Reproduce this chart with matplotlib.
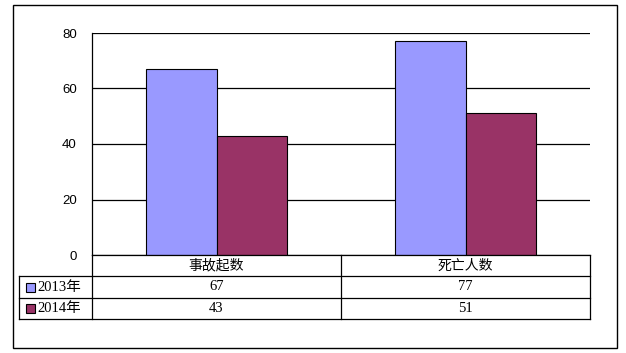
import matplotlib.pyplot as plt
from matplotlib.patches import Rectangle
from matplotlib.lines import Line2D

plt.rcParams['font.family'] = ['Liberation Sans', 'Noto Sans CJK SC']

categories = ["事故起数", "死亡人数"]
series_names = ["2013年", "2014年"]
values_2013 = [67, 77]
values_2014 = [43, 51]
colors = ["#9999FF", "#993366"]
yticks = [0, 20, 40, 60, 80]

W, H = 626, 353
fig = plt.figure(figsize=(W / 100, H / 100), dpi=100)


def fx(px):
    return px / W


def fy(py):
    return 1 - py / H


# outer frame
fig.patches.append(Rectangle((fx(13), fy(348)), fx(617) - fx(13), fy(5) - fy(348),
                             transform=fig.transFigure, fill=False, ec="black", lw=1.0))

left, right, top, bottom = 92, 590, 33, 255
ax = fig.add_axes([fx(left), fy(bottom), fx(right) - fx(left), fy(top) - fy(bottom)])

bw = 0.285
x = range(len(categories))
ax.bar([i - bw / 2 for i in x], values_2013, bw, color=colors[0], ec="black", lw=0.8, zorder=3)
ax.bar([i + bw / 2 for i in x], values_2014, bw, color=colors[1], ec="black", lw=0.8, zorder=3)

ax.set_xlim(-0.5, len(categories) - 0.5)
ax.set_ylim(0, 80)
ax.set_yticks(yticks)
ax.set_yticklabels([str(t) for t in yticks], fontsize=9.5)
ax.tick_params(axis="y", length=0, pad=11)
ax.set_xticks([])
ax.yaxis.grid(True, color="black", lw=0.9, zorder=0)
ax.set_axisbelow(True)
for s in ["top", "right", "bottom"]:
    ax.spines[s].set_visible(False)
ax.spines["left"].set_linewidth(0.9)

# data table below the plot
row_y = [255, 276, 298, 319]
col_x = [19, 92, 341, 590]
lw = 0.9


def hline(y, x0, x1):
    fig.lines.append(Line2D([fx(x0), fx(x1)], [fy(y), fy(y)], transform=fig.transFigure,
                            color="black", lw=lw))


def vline(xp, y0, y1):
    fig.lines.append(Line2D([fx(xp), fx(xp)], [fy(y0), fy(y1)], transform=fig.transFigure,
                            color="black", lw=lw))


hline(row_y[0], col_x[1], col_x[3])
for yy in row_y[1:]:
    hline(yy, col_x[0], col_x[3])
vline(col_x[0], row_y[1], row_y[3])
for xx in col_x[1:]:
    vline(xx, row_y[0], row_y[3])

cjk = ['Noto Sans CJK SC', 'DejaVu Sans']
num = ['Liberation Serif', 'Noto Sans CJK SC']
for j, cat in enumerate(categories):
    cx = (col_x[j + 1] + col_x[j + 2]) / 2
    fig.text(fx(cx), fy((row_y[0] + row_y[1]) / 2), cat, ha="center", va="center",
             fontsize=10, family=cjk)

for i, (name, vals) in enumerate(zip(series_names, [values_2013, values_2014])):
    cy = (row_y[i + 1] + row_y[i + 2]) / 2
    fig.patches.append(Rectangle((fx(26), fy(cy + 4.5)), fx(9), fy(0) - fy(9),
                                 transform=fig.transFigure, fc=colors[i], ec="black", lw=0.8))
    fig.text(fx(37), fy(cy), name, ha="left", va="center", fontsize=10.5, family=num)
    for j, v in enumerate(vals):
        cx = (col_x[j + 1] + col_x[j + 2]) / 2
        fig.text(fx(cx), fy(cy), str(v), ha="center", va="center", fontsize=10.5, family=num)

fig.savefig("out.png", dpi=100)
